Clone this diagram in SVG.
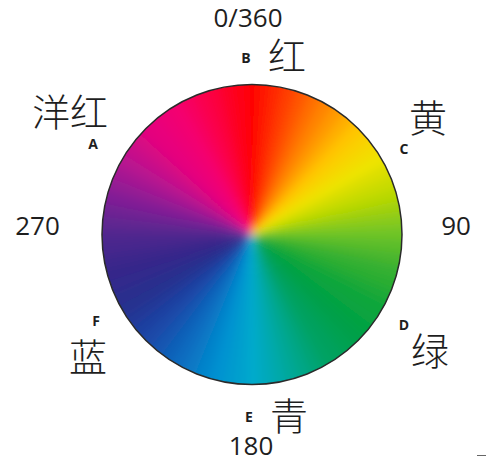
<svg xmlns="http://www.w3.org/2000/svg" xmlns:xlink="http://www.w3.org/1999/xlink" width="486" height="466" viewBox="0 0 486 466">
<style>
.num{font-family:"Open Sans","Liberation Sans",sans-serif;font-size:26px;fill:#1e1e1e;text-anchor:middle}
.let{font-family:"Open Sans","Liberation Sans",sans-serif;font-size:14px;font-weight:bold;fill:#1e1e1e;text-anchor:middle}
.cjk{font-family:"Noto Sans CJK SC","Noto Sans CJK JP",sans-serif;font-size:38px;font-weight:300;fill:#1e1e1e;text-anchor:middle}
</style>
<defs>
<path id="w" d="M252 234.5 L243.1 64.5 L260.9 64.5 Z"/>
<clipPath id="cc"><circle cx="252" cy="234.5" r="150"/></clipPath>
<filter id="bl" x="-20%" y="-20%" width="140%" height="140%"><feGaussianBlur stdDeviation="4.5"/></filter>
</defs>
<rect width="486" height="466" fill="#ffffff"/>
<g id="wheel">
<g clip-path="url(#cc)">
<g filter="url(#bl)">
<use xlink:href="#w" fill="#ff0000" transform="rotate(0 252 234.5)"/>
<use xlink:href="#w" fill="#ff1500" transform="rotate(5 252 234.5)"/>
<use xlink:href="#w" fill="#ff2b00" transform="rotate(10 252 234.5)"/>
<use xlink:href="#w" fill="#ff4000" transform="rotate(15 252 234.5)"/>
<use xlink:href="#w" fill="#ff5600" transform="rotate(20 252 234.5)"/>
<use xlink:href="#w" fill="#ff6e00" transform="rotate(25 252 234.5)"/>
<use xlink:href="#w" fill="#ff8400" transform="rotate(30 252 234.5)"/>
<use xlink:href="#w" fill="#ff9900" transform="rotate(35 252 234.5)"/>
<use xlink:href="#w" fill="#ffaf00" transform="rotate(40 252 234.5)"/>
<use xlink:href="#w" fill="#ffc400" transform="rotate(45 252 234.5)"/>
<use xlink:href="#w" fill="#fad000" transform="rotate(50 252 234.5)"/>
<use xlink:href="#w" fill="#f4da00" transform="rotate(55 252 234.5)"/>
<use xlink:href="#w" fill="#eee400" transform="rotate(60 252 234.5)"/>
<use xlink:href="#w" fill="#dcdf00" transform="rotate(65 252 234.5)"/>
<use xlink:href="#w" fill="#cadb00" transform="rotate(70 252 234.5)"/>
<use xlink:href="#w" fill="#b8d800" transform="rotate(75 252 234.5)"/>
<use xlink:href="#w" fill="#a0d00d" transform="rotate(80 252 234.5)"/>
<use xlink:href="#w" fill="#88ca1a" transform="rotate(85 252 234.5)"/>
<use xlink:href="#w" fill="#70c428" transform="rotate(90 252 234.5)"/>
<use xlink:href="#w" fill="#5cbd2b" transform="rotate(95 252 234.5)"/>
<use xlink:href="#w" fill="#48b62d" transform="rotate(100 252 234.5)"/>
<use xlink:href="#w" fill="#34b030" transform="rotate(105 252 234.5)"/>
<use xlink:href="#w" fill="#29ad33" transform="rotate(110 252 234.5)"/>
<use xlink:href="#w" fill="#1ba937" transform="rotate(115 252 234.5)"/>
<use xlink:href="#w" fill="#10a63a" transform="rotate(120 252 234.5)"/>
<use xlink:href="#w" fill="#0ba43f" transform="rotate(125 252 234.5)"/>
<use xlink:href="#w" fill="#05a243" transform="rotate(130 252 234.5)"/>
<use xlink:href="#w" fill="#00a048" transform="rotate(135 252 234.5)"/>
<use xlink:href="#w" fill="#00a151" transform="rotate(140 252 234.5)"/>
<use xlink:href="#w" fill="#00a15b" transform="rotate(145 252 234.5)"/>
<use xlink:href="#w" fill="#00a264" transform="rotate(150 252 234.5)"/>
<use xlink:href="#w" fill="#00a475" transform="rotate(155 252 234.5)"/>
<use xlink:href="#w" fill="#00a687" transform="rotate(160 252 234.5)"/>
<use xlink:href="#w" fill="#00a898" transform="rotate(165 252 234.5)"/>
<use xlink:href="#w" fill="#00a9aa" transform="rotate(170 252 234.5)"/>
<use xlink:href="#w" fill="#00a9bb" transform="rotate(175 252 234.5)"/>
<use xlink:href="#w" fill="#00aacc" transform="rotate(180 252 234.5)"/>
<use xlink:href="#w" fill="#00a1cd" transform="rotate(185 252 234.5)"/>
<use xlink:href="#w" fill="#0099cf" transform="rotate(190 252 234.5)"/>
<use xlink:href="#w" fill="#0090d0" transform="rotate(195 252 234.5)"/>
<use xlink:href="#w" fill="#0384cb" transform="rotate(200 252 234.5)"/>
<use xlink:href="#w" fill="#0778c5" transform="rotate(205 252 234.5)"/>
<use xlink:href="#w" fill="#0a6cc0" transform="rotate(210 252 234.5)"/>
<use xlink:href="#w" fill="#0f60b8" transform="rotate(215 252 234.5)"/>
<use xlink:href="#w" fill="#1554b0" transform="rotate(220 252 234.5)"/>
<use xlink:href="#w" fill="#1a48a8" transform="rotate(225 252 234.5)"/>
<use xlink:href="#w" fill="#1f40a0" transform="rotate(230 252 234.5)"/>
<use xlink:href="#w" fill="#233897" transform="rotate(235 252 234.5)"/>
<use xlink:href="#w" fill="#28308f" transform="rotate(240 252 234.5)"/>
<use xlink:href="#w" fill="#2c2d8d" transform="rotate(245 252 234.5)"/>
<use xlink:href="#w" fill="#30298c" transform="rotate(250 252 234.5)"/>
<use xlink:href="#w" fill="#34268a" transform="rotate(255 252 234.5)"/>
<use xlink:href="#w" fill="#3d268b" transform="rotate(260 252 234.5)"/>
<use xlink:href="#w" fill="#47278d" transform="rotate(265 252 234.5)"/>
<use xlink:href="#w" fill="#50288e" transform="rotate(270 252 234.5)"/>
<use xlink:href="#w" fill="#602591" transform="rotate(275 252 234.5)"/>
<use xlink:href="#w" fill="#702193" transform="rotate(280 252 234.5)"/>
<use xlink:href="#w" fill="#801e96" transform="rotate(285 252 234.5)"/>
<use xlink:href="#w" fill="#931b94" transform="rotate(290 252 234.5)"/>
<use xlink:href="#w" fill="#a51792" transform="rotate(295 252 234.5)"/>
<use xlink:href="#w" fill="#b81490" transform="rotate(300 252 234.5)"/>
<use xlink:href="#w" fill="#c70d8a" transform="rotate(305 252 234.5)"/>
<use xlink:href="#w" fill="#d50784" transform="rotate(310 252 234.5)"/>
<use xlink:href="#w" fill="#e4007e" transform="rotate(315 252 234.5)"/>
<use xlink:href="#w" fill="#e9007b" transform="rotate(320 252 234.5)"/>
<use xlink:href="#w" fill="#ef0075" transform="rotate(325 252 234.5)"/>
<use xlink:href="#w" fill="#f40070" transform="rotate(330 252 234.5)"/>
<use xlink:href="#w" fill="#f70060" transform="rotate(335 252 234.5)"/>
<use xlink:href="#w" fill="#fa0050" transform="rotate(340 252 234.5)"/>
<use xlink:href="#w" fill="#fc0040" transform="rotate(345 252 234.5)"/>
<use xlink:href="#w" fill="#fd002b" transform="rotate(350 252 234.5)"/>
<use xlink:href="#w" fill="#fe0015" transform="rotate(355 252 234.5)"/>
</g>
</g>
<circle cx="252" cy="234.5" r="150" fill="none" stroke="#2a2a2a" stroke-width="1.5"/>
</g>
<g id="label-top"><text class="num" x="248" y="27">0/360</text><text class="let" x="246" y="63">B</text><text class="cjk" x="287" y="70">红</text></g>
<g id="label-magenta"><text class="cjk" x="70" y="126">洋红</text><text class="let" x="93" y="149">A</text></g>
<g id="label-yellow"><text class="cjk" x="428" y="132">黄</text><text class="let" x="404" y="154">C</text></g>
<g id="label-270"><text class="num" x="37.5" y="235">270</text></g>
<g id="label-90"><text class="num" x="456" y="235">90</text></g>
<g id="label-blue"><text class="let" x="96" y="326">F</text><text class="cjk" x="88" y="371">蓝</text></g>
<g id="label-green"><text class="let" x="404" y="330">D</text><text class="cjk" x="430" y="365">绿</text></g>
<g id="label-cyan"><text class="let" x="249" y="422">E</text><text class="cjk" x="289" y="430">青</text><text class="num" x="251" y="455">180</text></g>
<line x1="477" y1="455.5" x2="486" y2="455.5" stroke="#666" stroke-width="1"/>
</svg>
